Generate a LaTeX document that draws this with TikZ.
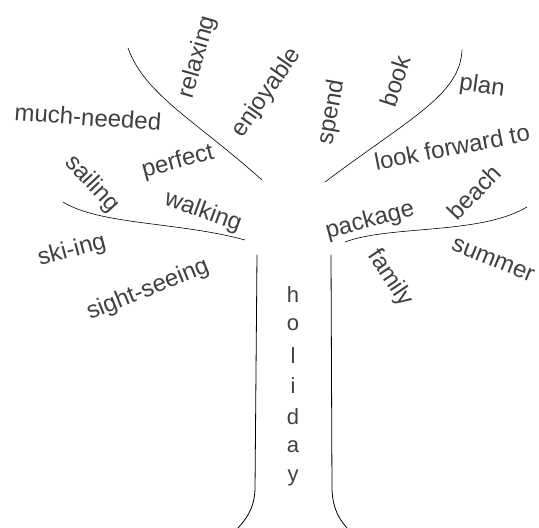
\documentclass[tikz,border=0pt]{standalone}
\usepackage{fontspec}
\setmainfont{Liberation Sans}
\usetikzlibrary{positioning}

\begin{document}
\begin{tikzpicture}[
  x=1pt, y=-1pt,
  word/.style={inner sep=0pt, text=black!75, font=\fontsize{24}{24}\selectfont},
  letter/.style={inner sep=0pt, text=black!75, font=\fontsize{22}{22}\selectfont},
  branch/.style={semithick, line cap=round},
  trunk/.style={thick, line cap=round}]
  \useasboundingbox (0,0) rectangle (539,528);
  % branches
  \draw[branch] (128,48) .. controls (145,95) and (195,120) .. (262,180);
  \draw[branch] (63,202) .. controls (100,225) and (180,222) .. (245,240);
  \draw[branch] (462,50) .. controls (460,95) and (410,118) .. (325,182);
  \draw[branch] (345,242) .. controls (390,225) and (480,235) .. (527,207);
  % trunk
  \draw[trunk] (257,255) -- (255,490) .. controls (254,510) and (245,520) .. (238,528);
  \draw[trunk] (331,255) -- (332,490) .. controls (333,510) and (340,520) .. (347,528);
  % left words
  \node[word, rotate=74]  (relax) at (198,57)  {relaxing};
  \node[word, rotate=-4]  (much)  at (88,117)  {much-needed};
  \node[word, rotate=55]  (enjoy) at (267,93)  {enjoyable};
  \node[word, rotate=15]  (perf)  at (178,162) {perfect};
  \node[word, rotate=-47] (sail)  at (92,184)  {sailing};
  \node[word, rotate=-20] (walk)  at (203,212) {walking};
  \node[word, rotate=15]  (ski)   at (72,251)  {ski-ing};
  \node[word, rotate=22]  (sight) at (148,290) {sight-seeing};
  % right words
  \node[word, rotate=80]  (spend) at (332,112) {spend};
  \node[word, rotate=72]  (book)  at (395,81)  {book};
  \node[word, rotate=-8]  (plan)  at (482,87)  {plan};
  \node[word, rotate=11]  (look)  at (452,147) {look forward to};
  \node[word, rotate=15]  (pack)  at (370,221) {package};
  \node[word, rotate=46]  (beach) at (474,192) {beach};
  \node[word, rotate=-56] (fam)   at (390,278) {family};
  \node[word, rotate=-22] (summ)  at (493,260) {summer};
  % trunk word
  \foreach \ch [count=\i] in {h,o,l,i,d,a,y}
    \node[letter] (hol\i) at (293,264+30.5*\i) {\ch};
\end{tikzpicture}
\end{document}
